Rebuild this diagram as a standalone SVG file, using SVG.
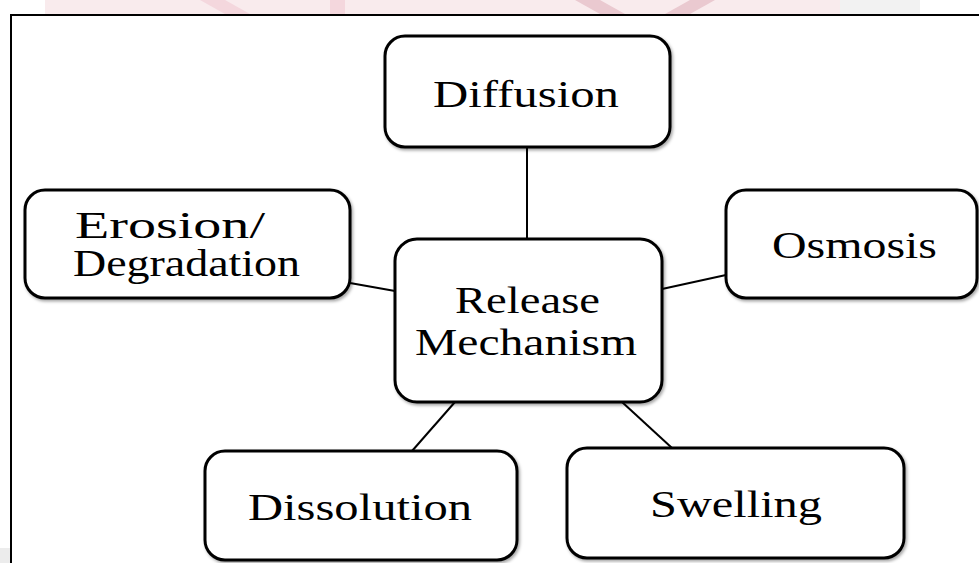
<svg xmlns="http://www.w3.org/2000/svg" width="979" height="563" viewBox="0 0 979 563">
  <style>
    .box { fill: #ffffff; stroke: #000000; stroke-width: 3; }
    .lbl { font-family: "Liberation Serif", "Times New Roman", serif; font-size: 38px; font-weight: normal; fill: #000000; }
    .conn { stroke: #000000; stroke-width: 2; fill: none; }
    .frame { stroke: #000000; stroke-width: 2; fill: none; }
  </style>
  <defs>
    <filter id="sh" x="-10%" y="-10%" width="125%" height="130%">
      <feDropShadow dx="1.5" dy="2" stdDeviation="1.5" flood-color="#000000" flood-opacity="0.35"/>
    </filter>
  </defs>
  <rect x="0" y="0" width="979" height="563" fill="#ffffff"/>
  <!-- faint watermark band at top -->
  <g id="watermark" opacity="0.9">
    <rect x="45" y="0" width="830" height="14" fill="#f9e9ec"/>
    <polygon points="200,0 225,0 250,14 225,14" fill="#f3d3da"/>
    <polygon points="330,0 345,0 345,14 330,14" fill="#f3d3da"/>
    <polygon points="575,0 600,0 625,14 600,14" fill="#e8c4cb"/>
    <polygon points="690,0 715,0 690,14 665,14" fill="#e8c4cb"/>
    <rect x="840" y="0" width="80" height="14" fill="#f1f1f1"/>
  </g>
  <rect x="0" y="548" width="10" height="15" fill="#ececec"/>
  <!-- frame -->
  <path class="frame" d="M11,563 V15 H979"/>

  <g id="connectors">
    <line class="conn" x1="527" y1="147" x2="527" y2="239"/>
    <line class="conn" x1="350" y1="283" x2="395" y2="291"/>
    <line class="conn" x1="662" y1="289" x2="726" y2="275"/>
    <line class="conn" x1="455" y1="402" x2="412" y2="451"/>
    <line class="conn" x1="622" y1="402" x2="672" y2="448"/>
  </g>

  <g id="diffusion">
    <rect class="box" filter="url(#sh)" x="385" y="36" width="285" height="111" rx="20"/>
    <text class="lbl" x="433" y="107" textLength="186" lengthAdjust="spacingAndGlyphs">Diffusion</text>
  </g>
  <g id="erosion">
    <rect class="box" filter="url(#sh)" x="25" y="190" width="325" height="108" rx="20"/>
    <text class="lbl" x="75" y="238" textLength="190" lengthAdjust="spacingAndGlyphs">Erosion/</text>
    <text class="lbl" x="73" y="276" textLength="227" lengthAdjust="spacingAndGlyphs">Degradation</text>
  </g>
  <g id="release">
    <rect class="box" filter="url(#sh)" x="395" y="239" width="267" height="163" rx="22"/>
    <text class="lbl" x="455" y="313" textLength="145" lengthAdjust="spacingAndGlyphs">Release</text>
    <text class="lbl" x="415" y="355" textLength="222" lengthAdjust="spacingAndGlyphs">Mechanism</text>
  </g>
  <g id="osmosis">
    <rect class="box" filter="url(#sh)" x="726" y="190" width="251" height="108" rx="20"/>
    <text class="lbl" x="772" y="258" textLength="165" lengthAdjust="spacingAndGlyphs">Osmosis</text>
  </g>
  <g id="dissolution">
    <rect class="box" filter="url(#sh)" x="205" y="451" width="312" height="109" rx="20"/>
    <text class="lbl" x="248" y="520" textLength="224" lengthAdjust="spacingAndGlyphs">Dissolution</text>
  </g>
  <g id="swelling">
    <rect class="box" filter="url(#sh)" x="567" y="448" width="337" height="110" rx="20"/>
    <text class="lbl" x="650" y="517" textLength="172" lengthAdjust="spacingAndGlyphs">Swelling</text>
  </g>
</svg>
